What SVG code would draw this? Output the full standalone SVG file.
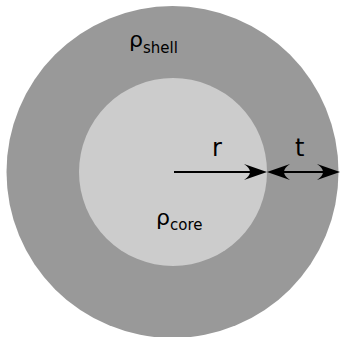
<svg xmlns="http://www.w3.org/2000/svg" width="340" height="337" viewBox="0 0 340 337">
<style>
.lbl{font-family:"DejaVu Sans",sans-serif;fill:#000}
.dim{stroke:#000;stroke-width:2;fill:none}
</style>
<defs>
<marker id="ah" viewBox="-24 -9 25 18" refX="-3" refY="0" markerWidth="25" markerHeight="18" markerUnits="userSpaceOnUse" orient="auto-start-reverse">
<path d="M0,0 L-23,-8 C-15,-2.5 -15,2.5 -23,8 Z" fill="#000"/>
</marker>
</defs>
<g id="shell">
<circle cx="172.5" cy="172" r="166" fill="#999999"/>
<text class="lbl" x="129" y="47" font-size="22">ρ<tspan font-size="15" dy="6">shell</tspan></text>
</g>
<g id="core">
<circle cx="173" cy="172" r="94" fill="#cccccc"/>
<text class="lbl" x="156" y="224.5" font-size="22">ρ<tspan font-size="15" dy="5.5">core</tspan></text>
</g>
<g id="connectors">
<line class="dim" x1="174" y1="172" x2="264" y2="172" marker-end="url(#ah)"/>
<line class="dim" x1="270" y1="172" x2="337" y2="172" marker-start="url(#ah)" marker-end="url(#ah)"/>
<text class="lbl" x="212" y="156" font-size="24">r</text>
<text class="lbl" x="295" y="156" font-size="24">t</text>
</g>
</svg>
